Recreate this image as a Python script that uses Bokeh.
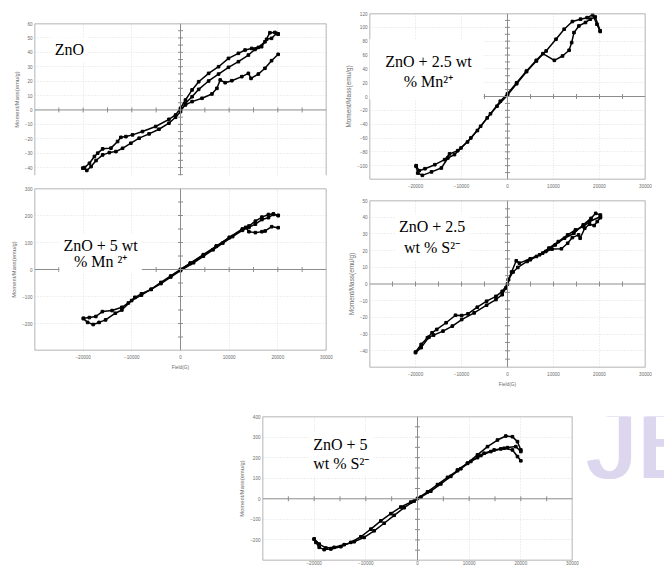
import math
from bokeh.plotting import figure
from bokeh.models import Range1d, LinearAxis, FixedTicker, Grid, Span, Label, Spacer
from bokeh.layouts import row, column
from bokeh.core.properties import value
from bokeh.embed import file_html
from bokeh.resources import INLINE

# ---------------- data (Field in G, Moment/Mass in emu/g) ----------------
# Panel 1: ZnO
zno_b1_h = [20070, 19390, 18370, 17350, 15990, 14630, 13270, 11900, 9860, 7820, 5780, 3740, 2380, 1020, 0,
            -1020, -2380, -5100, -7820, -9860, -11220, -12250, -12930, -14290, -15990, -17010, -17690, -18710, -19730]
zno_b1_m = [52.7, 53.8, 53.6, 47.3, 43.4, 42.7, 41.6, 39.3, 35.8, 30.0, 25.4, 19.6, 13.9, 6.9, 1.2,
            -3.5, -6.5, -11.5, -15.0, -17.3, -18.5, -19.0, -21.9, -26.5, -27.0, -30.0, -32.3, -37.0, -40.0]
zno_b2_h = [-20070, -19250, -18370, -17350, -15990, -14630, -13270, -11900, -10200, -8500, -6460, -4420, -2380, -1020, 0,
            1020, 2380, 3740, 5780, 7820, 9860, 11900, 13950, 15310, 16670, 17690, 18710, 19730, 20070]
zno_b2_m = [-40.4, -42.0, -39.3, -35.1, -31.2, -29.6, -28.9, -26.6, -23.1, -19.6, -16.6, -13.4, -9.2, -5.1, -1.2,
            4.6, 9.2, 14.3, 20.1, 24.9, 29.6, 33.5, 38.1, 42.0, 43.9, 49.0, 49.7, 53.1, 52.7]
zno_b3_h = [0, 1020, 2380, 4420, 6460, 7480, 8160, 9180, 10540, 12590, 13950, 14490, 15990, 17350, 18710, 20070]
zno_b3_m = [0, 3.5, 5.8, 8.1, 11.1, 15.0, 20.8, 18.9, 20.3, 23.1, 25.4, 21.9, 24.9, 28.9, 34.2, 38.6]

# Panel 2: ZnO + 2.5 wt % Mn2+
mn25_asc_h = [-19860, -19510, -18510, -16520, -14380, -12960, -11530, -10110, -7970, -5840, -3700, -1570, 0,
              1990, 4130, 6270, 7690, 10180, 11960, 13390, 13950, 14450, 15520, 16950, 18010, 19080, 20150]
mn25_asc_m = [-101, -110.7, -114, -109, -103.4, -88.9, -84, -74.4, -59.9, -43, -25, -6.8, 3.9,
              19.9, 36.8, 52.3, 62, 52.3, 58.6, 66.8, 78, 92.4, 102, 107, 111.8, 115, 95]
mn25_desc_h = [20150, 19440, 18510, 17300, 15880, 14100, 12320, 10540, 8400, 6270, 4130, 1990, 0,
               -2280, -4410, -6550, -8690, -10820, -12600, -13670, -15800, -17940, -19220, -19860]
mn25_desc_m = [94, 104.5, 118, 114, 111.8, 108.4, 97.3, 82.8, 65.8, 51.3, 35.9, 18.4, 2,
               -14, -30.9, -49.2, -65.7, -78.3, -83, -91.3, -98.6, -104.4, -107.3, -100]

# Panel 3: ZnO + 5 wt % Mn2+
mn5_asc_h = [-19950, -19080, -17940, -16730, -15390, -13390, -12050, -10040, -8030, -6020, -4020, -2010, 0,
             2010, 4690, 7360, 10040, 12720, 14060, 15390, 16730, 18070, 19080, 20080]
mn5_asc_m = [-182, -196, -203.7, -196, -186.6, -162, -150, -115, -95, -73, -48, -24, 0,
             24, 55, 87, 119, 150, 161, 179, 194, 203.7, 206, 200]
mn5_desc_h = [20080, 19080, 18070, 16730, 15390, 14060, 12720, 10710, 8700, 6690, 4690, 2680, 0,
              -2010, -4020, -6020, -8030, -9370, -10710, -12050, -14060, -16060, -17400, -18740, -19950]
mn5_desc_m = [200, 204, 192, 185, 168, 156, 145, 122, 98, 73, 49, 25, -4,
              -28, -52, -74, -90, -103, -124, -140, -152, -156, -174, -178, -180.5]
mn5_init_h = [0, 2010, 4690, 7360, 10040, 12720, 13390, 14060, 15390, 16730, 17400, 18740, 20080]
mn5_init_m = [0, 22, 53, 86, 118, 148, 156, 140, 136.6, 140, 142.7, 158.5, 155]

# Panel 4: ZnO + 2.5 wt % S2-
s25_asc_h = [-19990, -18770, -17070, -16060, -14020, -11990, -9960, -7250, -4540, -2510, -1150, -340, 200,
             1220, 2240, 4270, 6300, 8330, 10370, 12400, 14430, 16460, 18160, 19170, 20190]
s25_asc_m = [-41.1, -38.1, -31.8, -30.6, -28.2, -25.2, -21.3, -17.3, -12.7, -9.3, -6.4, -2.4, 2.6,
             7.2, 9.9, 13.5, 16.5, 19.5, 23.4, 27.4, 30.4, 35.4, 39.3, 42.3, 41.3]
s25_desc_h = [20190, 17820, 16460, 14770, 13080, 11040, 9010, 6980, 4950, 2570, 1900, 880, 200, 0,
              -1150, -2510, -4540, -6570, -8600, -9960, -11310, -13350, -15380, -16400, -17410, -18770, -19990]
s25_desc_m = [40.3, 37.4, 34.4, 32.4, 29.4, 25.4, 21.5, 17.5, 15.1, 12.5, 13.9, 7.2, 2.6, 0,
              -4.4, -7.4, -10.3, -13.9, -17.9, -18.9, -18.7, -23.2, -27.2, -29.2, -32.2, -36.2, -40.7]
s25_third_h = [4950, 7660, 9690, 11720, 13080, 14090, 15450, 15790, 16800, 17820, 18840, 19510, 20190]
s25_third_m = [14.5, 18.5, 20.9, 21.1, 24.4, 27.8, 29.4, 27.4, 33.4, 35.8, 35.0, 37.4, 39.7]

# Panel 5: ZnO + 5 wt % S2-
s5_asc_h = [-20000, -19670, -19030, -18060, -16770, -14840, -12900, -10970, -9030, -7100, -5160, -3230, -1290, 0,
            1940, 3870, 5810, 7740, 9680, 11610, 13550, 15480, 17090, 18380, 19350, 20000]
s5_asc_m = [-195.8, -211.9, -236, -247, -244, -232.7, -211.9, -184.6, -147.7, -107.5, -72.2, -40, -16, 1.6,
            33.7, 69, 104.3, 136.4, 173.3, 213.5, 253.6, 285.7, 305, 301.7, 277.7, 237.5]
s5_desc_h = [20000, 19030, 17410, 16120, 14190, 12260, 10320, 8390, 6450, 4520, 2580, 650,
             -650, -2580, -4520, -6450, -8390, -10320, -12260, -14190, -16130, -17740, -19030, -20000]
s5_desc_m = [229.5, 253.6, 248.8, 242.4, 229.5, 210.3, 181.4, 146, 109.1, 72.2, 36.9, 8,
             -11.2, -43.3, -80.3, -118.8, -155.7, -187.8, -208.7, -223, -236, -239, -220, -195.8]
s5_third_h = [7740, 9680, 11610, 12900, 14840, 16770, 18380, 19350, 20000]
s5_third_m = [140, 172, 200, 221.5, 237.5, 245.6, 237.5, 205.4, 184.6]

# tick labels
x_tick_labels = [-20000, -10000, 0, 10000, 20000, 30000]
p1_y_ticks = [-40, -30, -20, -10, 0, 10, 20, 30, 40, 50, 60]
p2_y_ticks = [-100, -80, -60, -40, -20, 0, 20, 40, 60, 80, 100, 120]
p3_y_ticks = [-200, -100, 0, 100, 200, 300]
p4_y_ticks = [-40, -30, -20, -10, 0, 10, 20, 30, 40, 50]
p5_y_ticks = [-200, -100, 0, 100, 200, 300, 400]
watermark_text = "JE"

FRAME = "#9c9c9c"
AXC = "#8c8c8c"
TXT = "#6a6a6a"
GRID = "#dedede"
SERIF = "Liberation Serif"
SANS = "Liberation Sans"


def drop_default_grids(p):
    p.center = [r for r in p.center if not isinstance(r, Grid)]


def make_panel(xr, yr, y_ticks, y_step, size, borders, x_labels=None, x_title=None,
               edges=("top", "bottom", "left", "right"), ytitle_size="5.8px", xlab_standoff=4):
    bl, br, bt, bb = borders
    w, h = size
    p = figure(width=w, height=h,
               x_range=Range1d(*xr), y_range=Range1d(*yr),
               x_axis_location=None, y_axis_location=None,
               output_backend="svg", toolbar_location=None, align="start",
               min_border_left=bl, min_border_right=br, min_border_top=bt, min_border_bottom=bb,
               outline_line_color=None, background_fill_color="white", border_fill_color="white")
    drop_default_grids(p)
    # faint dotted grid
    p.add_layout(Grid(dimension=0, ticker=FixedTicker(ticks=[v for v in x_tick_labels if v not in (0, 30000)]),
                      grid_line_color=GRID, grid_line_dash="1 2"))
    p.add_layout(Grid(dimension=1, ticker=FixedTicker(ticks=[v for v in y_ticks if v != 0 and v != yr[1]]),
                      grid_line_color=GRID, grid_line_dash="1 2"))
    # left axis with labels
    ya = LinearAxis(ticker=FixedTicker(ticks=y_ticks), axis_label="Moment/Mass(emu/g)",
                    axis_label_text_font=SANS, axis_label_text_font_size=ytitle_size,
                    axis_label_text_font_style="normal", axis_label_text_color=TXT,
                    major_label_text_font=SANS, major_label_text_font_size="4.6px",
                    major_label_text_color=TXT, major_tick_in=0, major_tick_out=0,
                    minor_tick_in=0, minor_tick_out=0, axis_line_color=None,
                    major_label_standoff=2, axis_label_standoff=2)
    p.add_layout(ya, "left")
    if x_labels is not None:
        kw = dict(ticker=FixedTicker(ticks=x_labels),
                  major_label_text_font=SANS, major_label_text_font_size="4.6px",
                  major_label_text_color=TXT, major_tick_in=0, major_tick_out=0,
                  minor_tick_in=0, minor_tick_out=0, axis_line_color=None,
                  major_label_standoff=xlab_standoff)
        if x_title:
            kw.update(axis_label=x_title, axis_label_text_font=SANS, axis_label_text_font_size="4.8px",
                      axis_label_text_font_style="normal", axis_label_text_color=TXT, axis_label_standoff=3)
        p.add_layout(LinearAxis(**kw), "below")
    # centre cross lines with tick marks (Excel style)
    p.add_layout(Span(location=0, dimension="width", line_color=AXC, line_width=1))
    p.add_layout(Span(location=0, dimension="height", line_color=AXC, line_width=1))
    xc_ticks = [v for v in range(-25000, 30000, 5000) if v != 0]
    yc_ticks = []
    v = y_step
    while v < yr[1]:
        yc_ticks.append(v)
        v += y_step
    v = -y_step
    while v > yr[0]:
        yc_ticks.append(v)
        v -= y_step
    p.scatter(xc_ticks, [0] * len(xc_ticks), marker="dash", size=5, angle=math.pi / 2,
              line_color=AXC, line_width=1)
    p.scatter([0] * len(yc_ticks), yc_ticks, marker="dash", size=5, line_color=AXC, line_width=1)
    # frame edges
    if "top" in edges:
        p.add_layout(Span(location=yr[1], dimension="width", line_color=FRAME, line_width=1.5))
    if "bottom" in edges:
        p.add_layout(Span(location=yr[0], dimension="width", line_color=FRAME, line_width=1.5))
    if "left" in edges:
        p.add_layout(Span(location=xr[0], dimension="height", line_color=FRAME, line_width=1.5))
    if "right" in edges:
        p.add_layout(Span(location=xr[1], dimension="height", line_color=FRAME, line_width=1.5))
    return p


def add_curves(p, pairs):
    for h, m in pairs:
        p.line(h, m, line_color="black", line_width=1.5)
        p.scatter(h, m, marker="square", size=2.6, fill_color="black", line_color="black")


def add_text(p, x, y, text, align="center", line_h=1.15, pad=None):
    kw = dict(x=x, y=y, text=text, text_font=SERIF, text_font_size="16px", text_color="black",
              text_align=align, text_baseline="middle", text_line_height=line_h,
              background_fill_color="white")
    if pad is not None:
        kw["padding"] = pad
    p.add_layout(Label(**kw))


XR = (-30000, 30000)

# Panel 1 (its bottom is cut off in the original)
p1 = make_panel(XR, (-45.5, 60), p1_y_ticks, 5, (340, 180), (34, 10, 23, 5),
                edges=("top", "left", "right"))
add_curves(p1, [(zno_b1_h, zno_b1_m), (zno_b2_h, zno_b2_m), (zno_b3_h, zno_b3_m)])
add_text(p1, -26670, 41.7, "ZnO", align="left", pad=dict(left=4, right=4, top=4, bottom=4))

# Panel 2
p2 = make_panel(XR, (-120, 120), p2_y_ticks, 10, (324, 190), (24, 19, 13, 11), x_labels=x_tick_labels,
                ytitle_size="6.4px")
add_curves(p2, [(mn25_asc_h, mn25_asc_m), (mn25_desc_h, mn25_desc_m)])
add_text(p2, -18160, 39.3, "ZnO + 2.5 wt\n% Mn²⁺", line_h=1.14,
         pad=dict(left=21, right=12, top=14, bottom=10))

# Panel 3
p3 = make_panel(XR, (-300, 300), p3_y_ticks, 50, (340, 210), (27, 14, 8, 40), x_labels=x_tick_labels,
                x_title="Field(G)")
add_curves(p3, [(mn5_asc_h, mn5_asc_m), (mn5_desc_h, mn5_desc_m), (mn5_init_h, mn5_init_m)])
add_text(p3, -16410, 58.8, "ZnO + 5 wt\n% Mn ²⁺", line_h=0.92, pad=dict(left=4, right=4, top=4, bottom=4))

# Panel 4
p4 = make_panel(XR, (-50, 50), p4_y_ticks, 5, (324, 200), (29, 1, 10, 23), x_labels=x_tick_labels,
                x_title="Field(G)", ytitle_size="6.4px")
add_curves(p4, [(s25_asc_h, s25_asc_m), (s25_desc_h, s25_desc_m), (s25_third_h, s25_third_m)])
add_text(p4, -16400, 28.2, "ZnO + 2.5\nwt % S²⁻", line_h=1.2, pad=dict(left=4, right=4, top=4, bottom=4))

# Panel 5 (bottom of it is cut by the page edge)
p5 = make_panel(XR, (-300, 400), p5_y_ticks, 50, (354, 177), (34, 10, 26, 6), x_labels=x_tick_labels,
                xlab_standoff=0)
add_curves(p5, [(s5_asc_h, s5_asc_m), (s5_desc_h, s5_desc_m), (s5_third_h, s5_third_m)])
add_text(p5, -20960, 219, "ZnO + 5\nwt % S²⁻", align="left", line_h=1.14, pad=dict(left=4, right=4, top=4, bottom=4))

# faint journal watermark at the right edge (two offset copies give a heavy stroke)
wm = figure(width=82, height=177, x_range=Range1d(0, 82), y_range=Range1d(0, 177),
            x_axis_location=None, y_axis_location=None, output_backend="svg", toolbar_location=None,
            min_border=0, outline_line_color=None, align="start")
drop_default_grids(wm)
wm.text(x=[3, 6], y=[144, 144], text=[watermark_text] * 2, text_font=value(SANS),
        text_font_size="100px", text_color="#dcd7ee", text_baseline="alphabetic", text_align="left")

layout = column(
    row(column(p1, p3, align="start"), column(p2, p4, align="start"), align="start"),
    row(Spacer(width=228, height=177), p5, wm, align="start"),
    align="start",
)

open("out.html", "w").write(file_html(layout, INLINE))
